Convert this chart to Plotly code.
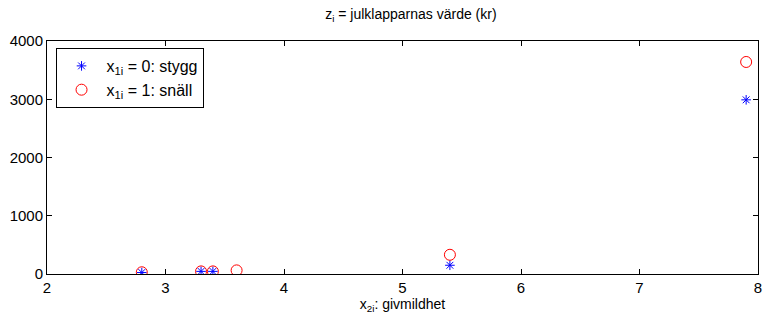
import plotly.graph_objects as go

x_stygg = [2.8, 3.3, 3.4, 5.4, 7.9]
z_stygg = [25, 45, 45, 150, 2990]
x_snall = [2.8, 3.3, 3.4, 3.6, 5.4, 7.9]
z_snall = [30, 45, 45, 62, 330, 3640]

x_ticks = [2, 3, 4, 5, 6, 7, 8]
y_ticks = [0, 1000, 2000, 3000, 4000]

fig = go.Figure()
fig.add_trace(go.Scatter(
    x=x_stygg, y=z_stygg, mode="markers", name="x<sub>1i</sub> = 0: stygg",
    marker=dict(symbol="asterisk-open", size=8, color="blue", line=dict(color="blue", width=1)),
))
fig.add_trace(go.Scatter(
    x=x_snall, y=z_snall, mode="markers", name="x<sub>1i</sub> = 1: snäll",
    marker=dict(symbol="circle-open", size=11, color="red", line=dict(color="red", width=1)),
))

axis_common = dict(
    showline=True, linecolor="black", linewidth=1, mirror="ticks",
    ticks="inside", ticklen=5, tickcolor="black", showgrid=False, zeroline=False,
    tickfont=dict(family="Liberation Sans, Arial", size=15, color="black"),
)
fig.update_layout(
    width=768, height=321,
    margin=dict(l=47, r=6, t=41, b=47),
    paper_bgcolor="white", plot_bgcolor="white",
    font=dict(family="Liberation Sans, Arial", size=13, color="black"),
    title=dict(text="z<sub>i</sub> = julklapparnas värde (kr)", x=0.535, xanchor="center",
               y=0.955, yanchor="middle", font=dict(size=14)),
    xaxis=dict(range=[2, 8], tickvals=x_ticks,
               title=dict(text="x<sub>2i</sub>: givmildhet", standoff=0, font=dict(size=14)), **axis_common),
    yaxis=dict(range=[0, 4000], tickvals=y_ticks, **axis_common),
    legend=dict(x=0.012, y=0.97, xanchor="left", yanchor="top",
                bordercolor="black", borderwidth=1, bgcolor="white",
                font=dict(size=16), itemwidth=40, tracegroupgap=0),
    showlegend=True,
)
fig.write_html("out.html")
